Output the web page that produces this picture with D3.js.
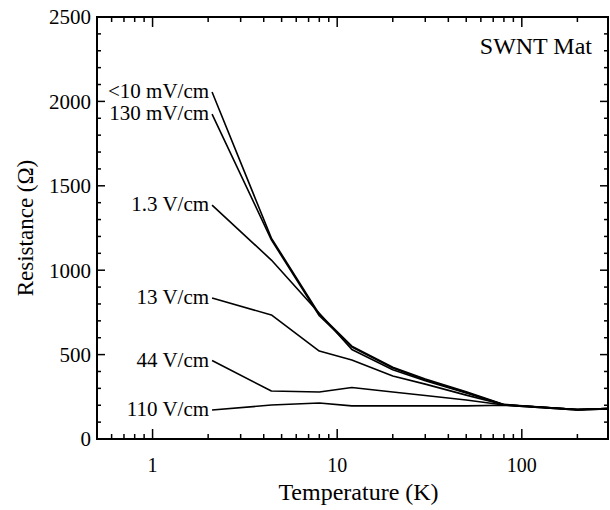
<!DOCTYPE html>
<html>
<head>
<meta charset="utf-8">
<script src="https://cdn.jsdelivr.net/npm/d3@7"></script>
<style>
  body { margin: 0; background: #fff; }
</style>
</head>
<body>
<div id="chart"></div>
<script>
const width = 610;
const height = 510;

// temperatures (K) where the curves were sampled
const temps = [2.1, 4.4, 8, 12, 20, 30, 50, 80, 200, 290];

// resistance (ohm) per electric field
const r10mV = [2056, 1190, 740, 550, 425, 355, 280, 205, 175, 180];
const r130mV = [1925, 1180, 730, 545, 420, 350, 275, 203, 175, 180];
const r1_3V = [1386, 1060, 745, 530, 410, 345, 272, 203, 175, 180];
const r13V = [835, 735, 521, 468, 373, 325, 260, 203, 175, 180];
const r44V = [465, 284, 278, 305, 278, 258, 231, 201, 172, 178];
const r110V = [172, 201, 213, 196, 196, 196, 196, 200, 172, 178];

const seriesNames = ["<10 mV/cm", "130 mV/cm", "1.3 V/cm", "13 V/cm", "44 V/cm", "110 V/cm"];
const seriesValues = [r10mV, r130mV, r1_3V, r13V, r44V, r110V];

const yTicks = [0, 500, 1000, 1500, 2000, 2500];
const xTicks = [1, 10, 100];

const plotLeft = 97, plotRight = 608, plotTop = 17, plotBottom = 439;

const x = d3.scaleLog().domain([0.5, 293]).range([plotLeft, plotRight]);
const y = d3.scaleLinear().domain([0, 2500]).range([plotBottom, plotTop]);

const svg = d3
  .select("#chart")
  .append("svg")
  .attr("width", width)
  .attr("height", height)
  .attr("font-family", "'Liberation Serif', 'Times New Roman', Times, serif");

svg.append("clipPath")
  .attr("id", "plotclip")
  .append("rect")
  .attr("x", plotLeft)
  .attr("y", plotTop)
  .attr("width", plotRight - plotLeft)
  .attr("height", plotBottom - plotTop);

// minor / major tick values
const xMinor = [];
[0.1, 1, 10, 100].forEach((dec) => {
  for (let k = 2; k <= 9; k++) {
    const v = dec * k;
    if (v > 0.5 && v < 293) xMinor.push(v);
  }
});
const yMinor = d3.range(0, 2501, 100).filter((v) => v % 500 !== 0);

const axisG = svg.append("g").attr("stroke", "#000").attr("stroke-width", 1.5);

// frame
axisG.append("rect")
  .attr("x", plotLeft)
  .attr("y", plotTop)
  .attr("width", plotRight - plotLeft)
  .attr("height", plotBottom - plotTop)
  .attr("fill", "none")
  .attr("stroke-width", 2);

// bottom and top ticks, pointing inward
const tickRow = (vals, y0, len) =>
  axisG.append("g").selectAll("line")
    .data(vals)
    .join("line")
    .attr("x1", (d) => x(d)).attr("x2", (d) => x(d))
    .attr("y1", y0).attr("y2", y0 + len);

tickRow(xTicks, plotBottom, -10);
tickRow(xMinor, plotBottom, -5);
tickRow(xTicks, plotTop, 10);
tickRow(xMinor, plotTop, 5);

// left and right ticks
const tickCol = (vals, x0, len) =>
  axisG.append("g").selectAll("line")
    .data(vals)
    .join("line")
    .attr("x1", x0).attr("x2", x0 + len)
    .attr("y1", (d) => y(d)).attr("y2", (d) => y(d));

tickCol(yTicks, plotLeft, 8);
tickCol(yMinor, plotLeft, 4);
tickCol(yTicks, plotRight, -8);
tickCol(yMinor, plotRight, -4);

// tick labels
svg.append("g").selectAll("text")
  .data(yTicks)
  .join("text")
  .attr("x", plotLeft - 6)
  .attr("y", (d) => y(d))
  .attr("dy", "0.35em")
  .attr("text-anchor", "end")
  .attr("font-size", 21)
  .text((d) => d);

svg.append("g").selectAll("text")
  .data(xTicks)
  .join("text")
  .attr("x", (d) => x(d))
  .attr("y", 472)
  .attr("text-anchor", "middle")
  .attr("font-size", 20)
  .text((d) => d);

// axis titles
svg.append("text")
  .attr("x", (plotLeft + plotRight) / 2 + 6)
  .attr("y", 500)
  .attr("text-anchor", "middle")
  .attr("font-size", 24)
  .text("Temperature (K)");

svg.append("text")
  .attr("transform", `translate(33 ${(plotTop + plotBottom) / 2}) rotate(-90)`)
  .attr("text-anchor", "middle")
  .attr("font-size", 23)
  .text("Resistance (Ω)");

// curves
const line = d3.line()
  .x((d, i) => x(temps[i]))
  .y((d) => y(d));

svg.append("g")
  .attr("clip-path", "url(#plotclip)")
  .selectAll("path")
  .data(seriesValues)
  .join("path")
  .attr("d", (d) => line(d))
  .attr("fill", "none")
  .attr("stroke", "#000")
  .attr("stroke-width", 1.6)
  .attr("stroke-linejoin", "round");

// curve labels at the low-temperature end
svg.append("g").selectAll("text")
  .data(seriesNames)
  .join("text")
  .attr("x", x(temps[0]) - 3)
  .attr("y", (d, i) => y(seriesValues[i][0]))
  .attr("dy", "0.3em")
  .attr("text-anchor", "end")
  .attr("font-size", 21)
  .text((d) => d);

svg.append("text")
  .attr("x", 592)
  .attr("y", 54)
  .attr("text-anchor", "end")
  .attr("font-size", 24)
  .text("SWNT Mat");
</script>
</body>
</html>
